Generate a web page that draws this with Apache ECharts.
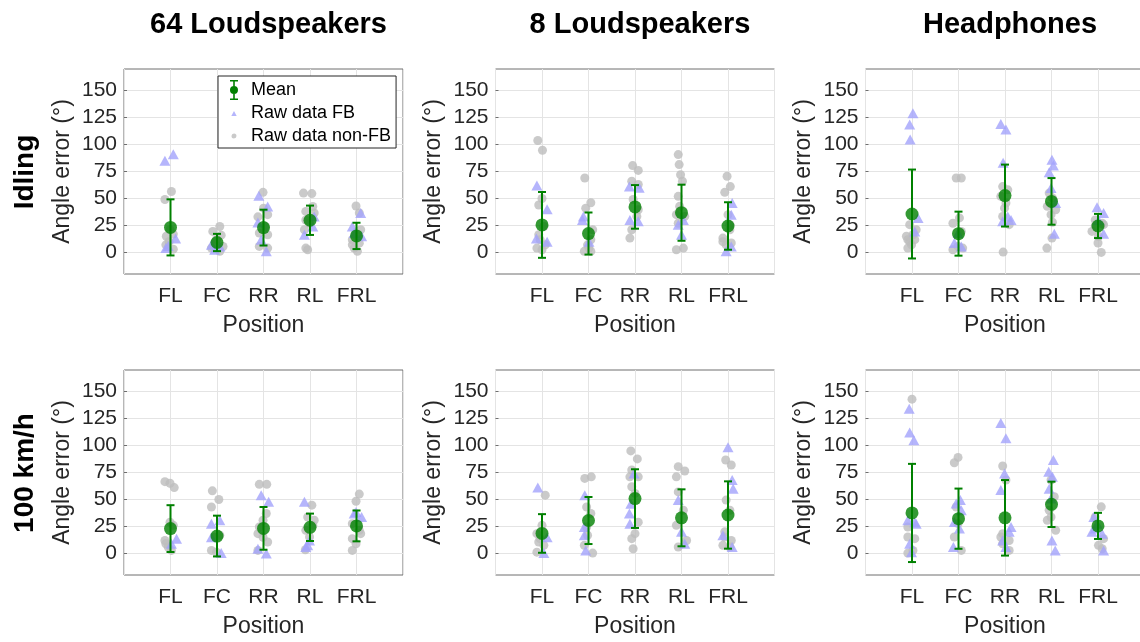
<!DOCTYPE html>
<html>
<head>
<meta charset="utf-8">
<script src="https://cdn.jsdelivr.net/npm/echarts@6/dist/echarts.min.js"></script>
<style>
  html, body { margin: 0; padding: 0; background: #ffffff; }
  #chart { width: 1140px; height: 642px; }
</style>
</head>
<body>
<div id="chart"></div>
<script>
// Sound source positions, reproduction systems and driving conditions
const positions = ['FL', 'FC', 'RR', 'RL', 'FRL'];
const systems = ['64 Loudspeakers', '8 Loudspeakers', 'Headphones'];
const conditions = ['Idling', '100 km/h'];
const yTicks = [0, 25, 50, 75, 100, 125, 150];

// Mean angle error and standard deviation per position (degrees)
const idle64Mean = [23.2, 9.2, 23.0, 29.8, 15.3];
const idle64Sd   = [26.0, 8.0, 16.6, 13.6, 12.2];
const idle8Mean  = [25.5, 17.5, 42.2, 36.8, 24.5];
const idle8Sd    = [30.5, 19.5, 20.2, 26.0, 22.0];
const idleHpMean = [35.6, 17.4, 52.7, 47.3, 24.5];
const idleHpSd   = [41.2, 20.4, 28.7, 21.6, 11.2];
const kmh64Mean  = [23.0, 16.1, 23.2, 24.2, 25.5];
const kmh64Sd    = [21.7, 18.9, 19.8, 12.7, 14.3];
const kmh8Mean   = [18.5, 30.5, 50.8, 33.0, 35.6];
const kmh8Sd     = [17.9, 21.8, 27.2, 26.4, 31.2];
const kmhHpMean  = [37.5, 32.2, 33.0, 45.5, 25.5];
const kmhHpSd    = [45.5, 27.9, 35.0, 21.0, 12.1];

// Individual answers: [position, horizontal jitter in category units, angle error]
const idle64FB = [
  ['FL', -0.12, 85], ['FL', 0.06, 91], ['FL', 0.11, 13], ['FL', -0.10, 4], ['FL', -0.05, 6],
  ['FC', -0.12, 7], ['FC', 0.06, 5.5], ['FC', -0.05, 2.5],
  ['RR', -0.10, 52.6], ['RR', 0.09, 42.6], ['RR', -0.12, 27.8], ['RR', -0.05, 11.7], ['RR', 0.06, 1],
  ['RL', -0.12, 16.4], ['RL', 0.06, 24], ['RL', 0.09, 33.4],
  ['FRL', -0.09, 24], ['FRL', 0.09, 36.5], ['FRL', 0.11, 15], ['FRL', -0.05, 18]
];
const idle64NonFB = [
  ['FL', -0.12, 49], ['FL', 0.02, 56.5], ['FL', -0.09, 15], ['FL', 0.06, 17], ['FL', -0.03, 10],
  ['FL', -0.10, 7], ['FL', 0.06, 3], ['FL', -0.01, 21],
  ['FC', 0.06, 24], ['FC', -0.09, 19.5], ['FC', 0.09, 16], ['FC', -0.01, 12], ['FC', 0.06, 1],
  ['FC', -0.12, 4], ['FC', 0.13, 5.5], ['FC', -0.05, 8.6],
  ['RR', -0.01, 55.7], ['RR', 0.09, 35], ['RR', -0.12, 33], ['RR', 0.04, 24], ['RR', -0.09, 18],
  ['RR', 0.09, 16.4], ['RR', -0.09, 5.6], ['RR', 0.09, 4], ['RR', 0.0, 41],
  ['RL', -0.14, 55], ['RL', 0.04, 54.5], ['RL', -0.09, 38], ['RL', 0.09, 36.5], ['RL', -0.09, 30],
  ['RL', -0.01, 27], ['RL', -0.12, 21], ['RL', -0.09, 4], ['RL', -0.05, 2.5], ['RL', 0.06, 42.6],
  ['FRL', -0.01, 43], ['FRL', 0.06, 36.5], ['FRL', -0.09, 11.7], ['FRL', 0.06, 8.6], ['FRL', -0.05, 4],
  ['FRL', 0.02, 1], ['FRL', 0.09, 21], ['FRL', -0.09, 7], ['FRL', -0.01, 16.4]
];

const idle8FB = [
  ['FL', -0.11, 62], ['FL', 0.11, 40], ['FL', -0.12, 13], ['FL', 0.11, 10],
  ['FC', -0.11, 33.4], ['FC', -0.13, 30], ['FC', 0.01, 10],
  ['RR', -0.12, 61], ['RR', 0.09, 60], ['RR', -0.11, 30], ['RR', 0.07, 29],
  ['RL', -0.07, 25.7], ['RL', 0.04, 30], ['RL', 0.0, 16.4],
  ['FRL', 0.09, 45.8], ['FRL', 0.07, 35], ['FRL', 0.07, 5.6], ['FRL', -0.04, 1]
];
const idle8NonFB = [
  ['FL', -0.09, 103.7], ['FL', 0.01, 94.7], ['FL', -0.07, 44], ['FL', 0.0, 50], ['FL', 0.04, 24],
  ['FL', -0.07, 16.4], ['FL', -0.11, 4], ['FL', 0.0, 2.5], ['FL', 0.07, 7], ['FL', -0.04, 11.7],
  ['FC', -0.08, 69], ['FC', 0.05, 46], ['FC', -0.06, 41], ['FC', 0.09, 21], ['FC', 0.01, 4],
  ['FC', -0.09, 1], ['FC', 0.05, 1], ['FC', -0.02, 7], ['FC', 0.05, 11.7],
  ['RR', -0.05, 80.5], ['RR', 0.07, 76], ['RR', -0.07, 66], ['RR', 0.07, 63], ['RR', -0.04, 49],
  ['RR', 0.07, 39.6], ['RR', -0.11, 13.3], ['RR', -0.07, 21], ['RR', 0.04, 33.4],
  ['RL', -0.07, 90.7], ['RL', -0.05, 81.4], ['RL', -0.02, 72], ['RL', 0.02, 66], ['RL', -0.07, 52],
  ['RL', -0.11, 35], ['RL', 0.07, 33.4], ['RL', -0.07, 27], ['RL', -0.11, 2.5], ['RL', 0.04, 4],
  ['RL', -0.04, 42.7],
  ['FRL', -0.02, 70.6], ['FRL', 0.05, 61], ['FRL', -0.07, 55.7], ['FRL', 0.0, 35], ['FRL', 0.04, 21],
  ['FRL', -0.11, 13.3], ['FRL', 0.07, 8.7], ['FRL', -0.04, 7], ['FRL', -0.11, 10], ['FRL', 0.04, 25.7]
];

const idleHpFB = [
  ['FL', 0.02, 129], ['FL', -0.05, 118.6], ['FL', -0.04, 104.6], ['FL', 0.13, 32], ['FL', 0.06, 19.5],
  ['FC', -0.09, 8.7], ['FC', 0.06, 5.6], ['FC', -0.01, 18],
  ['RR', -0.09, 119], ['RR', 0.02, 114], ['RR', -0.04, 83], ['RR', 0.06, 33.4], ['RR', -0.05, 28.8],
  ['RR', 0.13, 30],
  ['RL', 0.01, 86], ['RL', 0.04, 80.5], ['RL', -0.05, 74.3], ['RL', -0.01, 59.8], ['RL', 0.09, 45.8],
  ['RL', 0.06, 17.3],
  ['FRL', -0.02, 41.8], ['FRL', 0.12, 36.5], ['FRL', 0.12, 17.3], ['FRL', 0.01, 30]
];
const idleHpNonFB = [
  ['FL', -0.05, 25.7], ['FL', -0.12, 15], ['FL', 0.06, 11.8], ['FL', -0.05, 10], ['FL', -0.09, 4],
  ['FL', 0.02, 16.4], ['FL', 0.09, 21], ['FL', -0.01, 7], ['FL', -0.09, 11.8],
  ['FC', -0.05, 69], ['FC', 0.06, 69], ['FC', 0.02, 32], ['FC', -0.12, 27], ['FC', 0.06, 19.5],
  ['FC', -0.12, 2.5], ['FC', -0.01, 5.6], ['FC', 0.09, 4],
  ['RR', -0.05, 61], ['RR', 0.06, 58], ['RR', -0.09, 52], ['RR', -0.01, 41], ['RR', -0.05, 33.4],
  ['RR', 0.09, 25.7], ['RR', -0.04, 0.3], ['RR', 0.02, 45.8],
  ['RL', -0.09, 42.7], ['RL', 0.02, 50.5], ['RL', -0.01, 35], ['RL', 0.09, 39.6], ['RL', 0.02, 28],
  ['RL', 0.01, 13.3], ['RL', -0.10, 4], ['RL', -0.05, 55],
  ['FRL', -0.06, 30], ['FRL', 0.09, 27], ['FRL', -0.13, 19.5], ['FRL', 0.0, 8.7], ['FRL', 0.07, 0],
  ['FRL', -0.06, 24], ['FRL', 0.12, 25.7], ['FRL', 0.01, 15]
];

const kmh64FB = [
  ['FL', 0.13, 13.7], ['FL', 0.02, 9],
  ['FC', -0.12, 27.6], ['FC', 0.06, 30.7], ['FC', -0.12, 15], ['FC', 0.09, 0.3],
  ['RR', -0.05, 54], ['RR', 0.11, 47.8], ['RR', -0.12, 4.3], ['RR', 0.06, 0],
  ['RL', -0.12, 47.8], ['RL', -0.05, 7.5], ['RL', -0.01, 12], ['RL', -0.09, 6],
  ['FRL', -0.01, 38.5], ['FRL', 0.11, 33.8], ['FRL', -0.05, 37]
];
const kmh64NonFB = [
  ['FL', -0.12, 66.5], ['FL', -0.01, 65], ['FL', 0.08, 61], ['FL', -0.01, 29], ['FL', 0.06, 26],
  ['FL', -0.12, 12], ['FL', -0.05, 6], ['FL', 0.02, 2.8], ['FL', -0.10, 9],
  ['FC', -0.10, 58], ['FC', 0.04, 50], ['FC', -0.12, 43], ['FC', 0.06, 16.8], ['FC', -0.12, 2.8],
  ['FC', -0.01, 1.2], ['FC', -0.05, 15],
  ['RR', -0.09, 64], ['RR', 0.07, 64], ['RR', -0.01, 30.7], ['RR', -0.12, 18.3], ['RR', -0.09, 24.5],
  ['RR', 0.09, 10.6], ['RR', -0.12, 2.8], ['RR', 0.06, 37], ['RR', -0.01, 15],
  ['RL', 0.04, 44.7], ['RL', -0.05, 33.8], ['RL', 0.06, 26], ['RL', -0.09, 21.4], ['RL', -0.01, 15.2],
  ['RL', -0.10, 3.4], ['RL', 0.09, 30.7],
  ['FRL', 0.06, 55], ['FRL', -0.01, 48.4], ['FRL', -0.09, 27.6], ['FRL', 0.09, 18.3], ['FRL', -0.09, 13.7],
  ['FRL', -0.01, 9], ['FRL', -0.09, 2.8], ['FRL', 0.06, 21.4]
];

const kmh8FB = [
  ['FL', -0.09, 61], ['FL', 0.11, 15], ['FL', 0.04, 0.3],
  ['FC', -0.08, 54], ['FC', -0.09, 24.5], ['FC', -0.09, 16.8], ['FC', -0.06, 2.8],
  ['RR', -0.02, 74], ['RR', -0.09, 46], ['RR', -0.12, 37], ['RR', -0.11, 27.6],
  ['RL', -0.07, 49.4], ['RL', 0.0, 20], ['RL', 0.07, 9],
  ['FRL', 0.0, 98.4], ['FRL', 0.09, 68], ['FRL', 0.11, 60], ['FRL', -0.11, 16.8], ['FRL', 0.09, 6]
];
const kmh8NonFB = [
  ['FL', 0.07, 54], ['FL', -0.11, 18.3], ['FL', 0.0, 26], ['FL', -0.07, 10.6], ['FL', -0.11, 1.2],
  ['FL', 0.04, 7.5], ['FL', -0.04, 13.7],
  ['FC', -0.08, 69.5], ['FC', 0.06, 71], ['FC', -0.04, 43], ['FC', 0.05, 37], ['FC', -0.04, 24.5],
  ['FC', 0.09, 0.3], ['FC', -0.02, 16.8], ['FC', -0.09, 7.5],
  ['RR', -0.09, 95], ['RR', 0.05, 87.6], ['RR', -0.07, 77.3], ['RR', 0.07, 71], ['RR', -0.07, 61.8],
  ['RR', 0.0, 55.6], ['RR', 0.07, 29], ['RR', 0.0, 18.3], ['RR', -0.07, 13.7], ['RR', -0.04, 4.3],
  ['RR', -0.11, 71],
  ['RL', -0.07, 80.4], ['RL', 0.07, 76.4], ['RL', -0.11, 71], ['RL', -0.07, 57], ['RL', -0.11, 26],
  ['RL', 0.11, 12], ['RL', -0.07, 6], ['RL', 0.04, 40],
  ['FRL', -0.05, 86.6], ['FRL', 0.07, 82], ['FRL', -0.04, 49.4], ['FRL', 0.04, 40], ['FRL', -0.07, 15.2],
  ['FRL', 0.07, 12], ['FRL', -0.11, 7.5], ['FRL', 0.04, 6], ['FRL', -0.07, 20]
];

const kmhHpFB = [
  ['FL', -0.06, 134], ['FL', -0.05, 112], ['FL', 0.04, 105], ['FL', -0.09, 30.7], ['FL', 0.09, 27.6],
  ['FL', -0.05, 9], ['FL', -0.01, 1.2], ['FL', 0.06, 29],
  ['FC', 0.04, 49.4], ['FC', -0.05, 46.3], ['FC', -0.09, 29.2], ['FC', 0.02, 23], ['FC', -0.11, 6],
  ['FC', 0.06, 40],
  ['RR', -0.09, 120.8], ['RR', 0.02, 106.8], ['RR', -0.01, 74], ['RR', -0.09, 58.7], ['RR', 0.13, 24.5],
  ['RR', 0.02, 6], ['RR', -0.05, 12], ['RR', 0.09, 20],
  ['RL', 0.04, 86.6], ['RL', -0.06, 75.8], ['RL', 0.02, 71], ['RL', -0.05, 60], ['RL', -0.01, 51],
  ['RL', 0.01, 12], ['RL', 0.08, 2.8],
  ['FRL', -0.09, 33.8], ['FRL', -0.02, 27.6], ['FRL', -0.13, 20], ['FRL', 0.09, 18.3], ['FRL', 0.12, 2.8],
  ['FRL', -0.06, 23]
];
const kmhHpNonFB = [
  ['FL', 0.0, 143], ['FL', -0.09, 24.5], ['FL', -0.09, 15.2], ['FL', 0.06, 13.7], ['FL', -0.09, 0.3],
  ['FL', 0.02, 2.8],
  ['FC', -0.01, 89], ['FC', -0.09, 84], ['FC', -0.05, 43], ['FC', -0.09, 15.2], ['FC', 0.06, 2.8],
  ['FC', -0.01, 27.6],
  ['RR', -0.05, 81], ['RR', 0.02, 68], ['RR', -0.05, 18.3], ['RR', 0.09, 12], ['RR', -0.05, 9],
  ['RR', 0.09, 2.8], ['RR', -0.09, 15.2],
  ['RL', -0.01, 68], ['RL', 0.06, 52.5], ['RL', -0.05, 40], ['RL', -0.09, 30.7], ['RL', 0.09, 21.4],
  ['RL', -0.01, 33.8],
  ['FRL', 0.07, 43.2], ['FRL', -0.06, 33.8], ['FRL', 0.12, 13.7], ['FRL', 0.01, 7.5], ['FRL', 0.09, 4.3]
];

// Panels in reading order: row = condition, column = system
const panels = [
  { mean: idle64Mean, sd: idle64Sd, fb: idle64FB, nonFb: idle64NonFB },
  { mean: idle8Mean,  sd: idle8Sd,  fb: idle8FB,  nonFb: idle8NonFB },
  { mean: idleHpMean, sd: idleHpSd, fb: idleHpFB, nonFb: idleHpNonFB },
  { mean: kmh64Mean,  sd: kmh64Sd,  fb: kmh64FB,  nonFb: kmh64NonFB },
  { mean: kmh8Mean,   sd: kmh8Sd,   fb: kmh8FB,   nonFb: kmh8NonFB },
  { mean: kmhHpMean,  sd: kmhHpSd,  fb: kmhHpFB,  nonFb: kmhHpNonFB }
];

// ---- layout & styling ----
const FONT = '"Liberation Sans", Arial, Helvetica, sans-serif';
const TEXT = '#262626';
const GREEN = '#008000';
const FB_COLOR = '#a3a3fb';
const NONFB_COLOR = '#bdbdbd';
const colLeft = [124, 495.5, 865.5];
const rowTop = [69, 370];
const plotW = 279;
const plotH = 205;

const toXY = p => [positions.indexOf(p[0]) + 1 + p[1], p[2]];

function renderErrorBar(params, api) {
  const x = api.value(0), m = api.value(1), s = api.value(2);
  const hi = api.coord([x, m + s]);
  const lo = api.coord([x, m - s]);
  const cap = 4;
  const style = { stroke: GREEN, lineWidth: 2 };
  return {
    type: 'group',
    children: [
      { type: 'line', shape: { x1: hi[0], y1: hi[1], x2: lo[0], y2: lo[1] }, style },
      { type: 'line', shape: { x1: hi[0] - cap, y1: hi[1], x2: hi[0] + cap, y2: hi[1] }, style },
      { type: 'line', shape: { x1: lo[0] - cap, y1: lo[1], x2: lo[0] + cap, y2: lo[1] }, style }
    ]
  };
}

const grids = [], xAxes = [], yAxes = [], series = [];
panels.forEach((pn, i) => {
  const r = Math.floor(i / 3), c = i % 3;
  grids.push({
    left: colLeft[c], top: rowTop[r], width: plotW, height: plotH,
    outerBoundsMode: 'none', containLabel: false,
    show: true, borderColor: '#6e6e6e', borderWidth: 1, backgroundColor: 'transparent'
  });
  xAxes.push({
    gridIndex: i, type: 'value', min: 0, max: 6, interval: 1,
    axisLine: { show: false },
    axisTick: { show: false },
    axisLabel: {
      formatter: v => positions[v - 1] || '',
      fontSize: 21, color: TEXT, fontFamily: FONT, margin: 12
    },
    splitLine: { show: true, lineStyle: { color: '#e4e4e4', width: 1 } },
    name: 'Position', nameLocation: 'middle', nameGap: 40,
    nameTextStyle: { fontSize: 23, color: TEXT, fontFamily: FONT }
  });
  yAxes.push({
    gridIndex: i, type: 'value', min: -20, max: 170,
    axisLine: { show: false },
    axisTick: { show: true, inside: true, length: 3, customValues: yTicks, lineStyle: { color: '#6e6e6e' } },
    axisLabel: { customValues: yTicks, fontSize: 21, color: TEXT, fontFamily: FONT, margin: 7 },
    splitLine: { show: true, lineStyle: { color: '#e4e4e4', width: 1 } },
    name: 'Angle error (°)', nameLocation: 'middle', nameGap: 50,
    nameTextStyle: { fontSize: 23, color: TEXT, fontFamily: FONT }
  });
  series.push({
    name: 'Raw data non-FB', type: 'scatter', xAxisIndex: i, yAxisIndex: i,
    symbol: 'circle', symbolSize: 9, silent: true, z: 2,
    itemStyle: { color: NONFB_COLOR },
    data: pn.nonFb.map(toXY)
  });
  series.push({
    name: 'Raw data FB', type: 'scatter', xAxisIndex: i, yAxisIndex: i,
    symbol: 'triangle', symbolSize: [11, 10], silent: true, z: 3,
    itemStyle: { color: FB_COLOR },
    data: pn.fb.map(toXY)
  });
  series.push({
    name: 'Mean', type: 'custom', xAxisIndex: i, yAxisIndex: i,
    silent: true, z: 4, itemStyle: { color: GREEN },
    renderItem: renderErrorBar,
    encode: { x: 0, y: 1 },
    data: positions.map((p, k) => [k + 1, pn.mean[k], pn.sd[k]])
  });
  series.push({
    name: 'Mean', type: 'scatter', xAxisIndex: i, yAxisIndex: i,
    symbol: 'circle', symbolSize: 13, silent: true, z: 5,
    itemStyle: { color: GREEN },
    data: positions.map((p, k) => [k + 1, pn.mean[k]])
  });
});

// legend glyphs (tiny corner squares keep every glyph in the same 22x20 frame)
const FRAME = 'M0,0h0.01v0.01h-0.01z M21.99,19.99h0.01v0.01h-0.01z ';
const meanIcon = 'path://' + FRAME +
  'M7,0h8v1.6h-8z M10.2,0h1.6v20h-1.6z M7,18.4h8v1.6h-8z M11,6a4,4 0 1 1 -0.01,0z';
const fbIcon = 'path://' + FRAME + 'M8.3,13h5.4l-2.7,-5z';
const nonFbIcon = 'path://' + FRAME + 'M11,7.5a2.5,2.5 0 1 1 -0.01,0z';

const graphics = [
  { type: 'text', x: 25, y: 172, rotation: Math.PI / 2,
    style: { text: conditions[0], font: 'bold 28px ' + FONT, fill: '#000', textAlign: 'center', textVerticalAlign: 'middle' } },
  { type: 'text', x: 25, y: 473, rotation: Math.PI / 2,
    style: { text: conditions[1], font: 'bold 28px ' + FONT, fill: '#000', textAlign: 'center', textVerticalAlign: 'middle' } }
];

const titles = systems.map((s, c) => ({
  text: s, left: colLeft[c] + plotW / 2, top: 5, textAlign: 'center',
  textStyle: { fontSize: 29, fontWeight: 'bold', color: '#000', fontFamily: FONT }
}));

const chart = echarts.init(document.getElementById('chart'), null, { renderer: 'canvas' });
chart.setOption({
  backgroundColor: '#ffffff',
  animation: false,
  textStyle: { fontFamily: FONT },
  title: titles,
  legend: {
    left: 218, top: 76, orient: 'vertical',
    padding: [4, 5, 2, 5], itemGap: 3, itemWidth: 22, itemHeight: 20,
    symbolKeepAspect: true,
    backgroundColor: '#ffffff', borderColor: '#262626', borderWidth: 1, borderRadius: 0,
    textStyle: { fontSize: 18, color: '#000', fontFamily: FONT, padding: [0, 0, 0, 1] },
    selectedMode: false,
    data: [
      { name: 'Mean', icon: meanIcon, itemStyle: { color: GREEN } },
      { name: 'Raw data FB', icon: fbIcon, itemStyle: { color: FB_COLOR } },
      { name: 'Raw data non-FB', icon: nonFbIcon, itemStyle: { color: NONFB_COLOR } }
    ]
  },
  grid: grids,
  xAxis: xAxes,
  yAxis: yAxes,
  series: series,
  graphic: graphics
});
</script>
</body>
</html>
